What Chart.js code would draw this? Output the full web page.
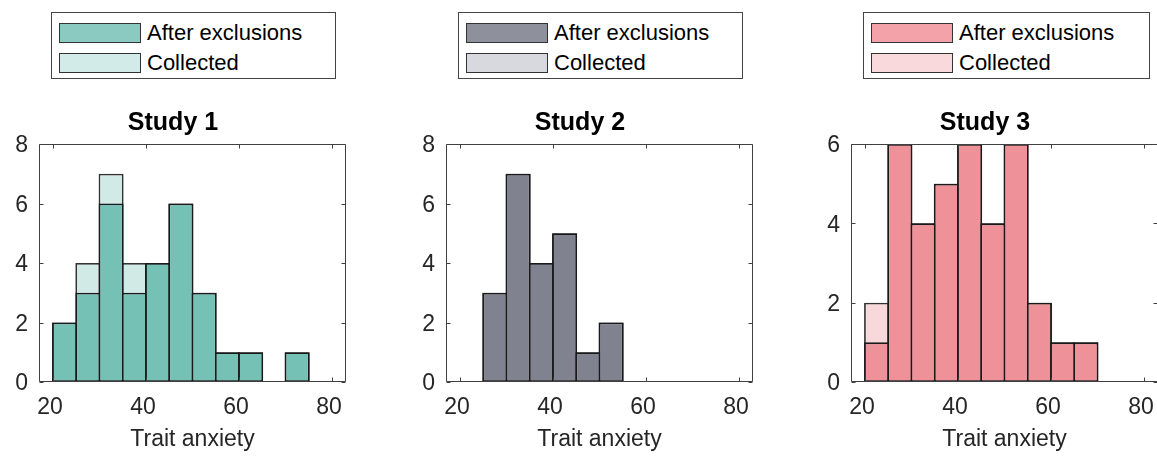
<!DOCTYPE html>
<html>
<head>
<meta charset="utf-8">
<script src="https://cdn.jsdelivr.net/npm/chart.js@4.4.1/dist/chart.umd.min.js"></script>
<style>
  html, body { margin: 0; padding: 0; background: #fff; overflow: hidden; width: 1157px; height: 456px; }
  body { position: relative; font-family: "Liberation Sans", Arial, sans-serif; }
  canvas { position: absolute; top: 100px; }
  .legend { position: absolute; top: 12px; width: 283px; height: 65px; border: 1px solid #444; background: #fff; }
  .row { position: absolute; left: 7px; display: flex; align-items: center; font-size: 22px; color: #000; }
  .sw { width: 80px; height: 18px; border: 1.5px solid #333; margin-right: 6px; }
</style>
</head>
<body>

<div class="legend" style="left:51px">
  <div class="row" style="top:7px"><div class="sw" style="background:#8acac0"></div>After exclusions</div>
  <div class="row" style="top:37px"><div class="sw" style="background:#d3ebe8"></div>Collected</div>
</div>
<div class="legend" style="left:458px">
  <div class="row" style="top:7px"><div class="sw" style="background:#8e909c"></div>After exclusions</div>
  <div class="row" style="top:37px"><div class="sw" style="background:#d8d9de"></div>Collected</div>
</div>
<div class="legend" style="left:863px; width:285px">
  <div class="row" style="top:7px"><div class="sw" style="background:#f3a2a9"></div>After exclusions</div>
  <div class="row" style="top:37px"><div class="sw" style="background:#fad9dd"></div>Collected</div>
</div>

<canvas id="study1" width="366" height="356" style="left:0px"></canvas>
<canvas id="study2" width="366" height="356" style="left:407px"></canvas>
<canvas id="study3" width="366" height="356" style="left:812px"></canvas>

<script>
"use strict";

// histogram bins, width 5, from 20 to 80
const binCenters = [22.5, 27.5, 32.5, 37.5, 42.5, 47.5, 52.5, 57.5, 62.5, 67.5, 72.5, 77.5];

const study1After     = [2, 3, 6, 3, 4, 6, 3, 1, 1, 0, 1, 0];
const study1Collected = [2, 4, 7, 4, 4, 6, 3, 1, 1, 0, 1, 0];

const study2After     = [0, 3, 7, 4, 5, 1, 2, 0, 0, 0, 0, 0];
const study2Collected = [0, 3, 7, 4, 5, 1, 2, 0, 0, 0, 0, 0];

const study3After     = [1, 6, 4, 5, 6, 4, 6, 2, 1, 1, 0, 0];
const study3Collected = [2, 6, 4, 5, 6, 4, 6, 2, 1, 1, 0, 0];

const xTicks = [20, 40, 60, 80];
const yTicksTo8 = [0, 2, 4, 6, 8];
const yTicksTo6 = [0, 2, 4, 6];

const FONT = '"Liberation Sans", Arial, Helvetica, sans-serif';

/**
 * Ritar axelramen och inåtriktade tickmarkeringar (MATLAB-stil).
 */
const axesBox = {
  id: 'axesBox',
  afterDatasetsDraw(chart) {
    const { ctx, chartArea: a, scales: { x, y } } = chart;
    const l = Math.round(a.left) + 0.5;
    const r = Math.round(a.right) - 0.5;
    const t = Math.round(a.top) + 0.5;
    const b = Math.round(a.bottom) - 0.5;
    ctx.save();
    ctx.strokeStyle = '#404040';
    ctx.lineWidth = 1;
    ctx.beginPath();
    ctx.rect(l, t, r - l, b - t);
    x.ticks.forEach(tk => {
      const px = Math.round(x.getPixelForValue(tk.value)) + 0.5;
      ctx.moveTo(px, b); ctx.lineTo(px, b - 4);
      ctx.moveTo(px, t); ctx.lineTo(px, t + 4);
    });
    y.ticks.forEach(tk => {
      const py = Math.round(y.getPixelForValue(tk.value)) + 0.5;
      ctx.moveTo(l, py); ctx.lineTo(l + 4, py);
      ctx.moveTo(r, py); ctx.lineTo(r - 4, py);
    });
    ctx.stroke();
    ctx.restore();
  }
};

function toPoints(counts) {
  return counts.map((c, i) => ({ x: binCenters[i], y: c }));
}

/**
 * Skapar ett histogram med två överlagrade serier.
 */
function createHistogram(id, title, after, collected, yTicks, colors) {
  const ctx = document.getElementById(id);

  new Chart(ctx, {
    type: 'bar',
    data: {
      datasets: [{
        label: 'After exclusions',
        data: toPoints(after),
        backgroundColor: colors.after,
        borderColor: '#1a1a1a',
        order: 0
      }, {
        label: 'Collected',
        data: toPoints(collected),
        backgroundColor: colors.collected,
        borderColor: '#333',
        order: 1
      }]
    },
    options: {
      responsive: false,
      animation: false,
      events: [],
      layout: { padding: { left: 0, right: 20, top: 0, bottom: 0 } },
      datasets: {
        bar: {
          grouped: false,
          borderWidth: 1.8,
          borderSkipped: false,
          categoryPercentage: 1,
          barPercentage: 1.077
        }
      },
      plugins: {
        legend: { display: false },
        tooltip: { enabled: false },
        title: {
          display: true,
          text: title,
          color: '#000',
          font: { family: FONT, size: 25, weight: 'bold' },
          padding: { top: 8, bottom: 6 }
        }
      },
      scales: {
        x: {
          type: 'linear',
          offset: false,
          min: 17,
          max: 83,
          afterBuildTicks: scale => { scale.ticks = xTicks.map(v => ({ value: v })); },
          afterFit: scale => { scale.height = 74; },
          grid: { display: false, drawTicks: false, offset: false },
          border: { display: false },
          ticks: {
            color: '#262626',
            font: { family: FONT, size: 23 },
            padding: 12,
            labelOffset: -3,
            maxRotation: 0
          },
          title: {
            display: true,
            text: 'Trait anxiety',
            color: '#262626',
            font: { family: FONT, size: 23 },
            padding: { top: 0, bottom: 3 }
          }
        },
        y: {
          min: 0,
          max: yTicks[yTicks.length - 1],
          afterBuildTicks: scale => { scale.ticks = yTicks.map(v => ({ value: v })); },
          afterFit: scale => { scale.width = 39; },
          grid: { display: false, drawTicks: false },
          border: { display: false },
          ticks: {
            color: '#262626',
            font: { family: FONT, size: 23 },
            padding: 11,
            labelOffset: 2
          }
        }
      }
    },
    plugins: [axesBox]
  });
}

createHistogram('study1', 'Study 1', study1After, study1Collected, yTicksTo8,
  { after: '#76c1b6', collected: '#d2eae6' });
createHistogram('study2', 'Study 2', study2After, study2Collected, yTicksTo8,
  { after: '#80828f', collected: '#d6d7dc' });
createHistogram('study3', 'Study 3', study3After, study3Collected, yTicksTo6,
  { after: '#ef9199', collected: '#f9d8dc' });
</script>
</body>
</html>
